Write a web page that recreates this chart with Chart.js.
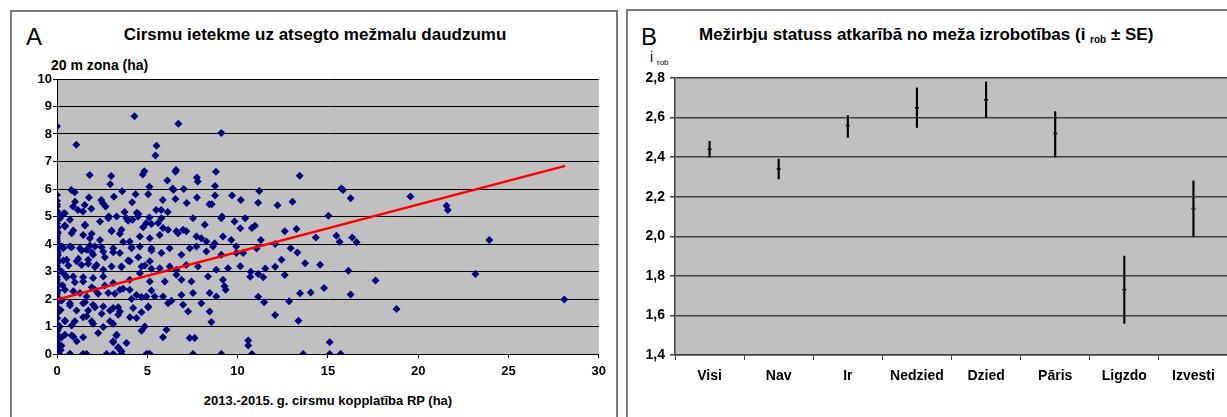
<!DOCTYPE html>
<html>
<head>
<meta charset="utf-8">
<script src="https://cdn.jsdelivr.net/npm/chart.js@4.4.1/dist/chart.umd.min.js"></script>
<style>
  body { margin: 0; background: #fff; overflow: hidden; width: 1227px; height: 417px; position: relative;
         font-family: "Liberation Sans", Arial, sans-serif; }
  .panel { position: absolute; border: 2px solid #7a7a7a; box-sizing: border-box; }
  .txt { position: absolute; line-height: 1; white-space: nowrap; color: #000; }
  .sub { font-size: 10px; position: relative; top: 3px; }
  canvas { position: absolute; }
</style>
</head>
<body>
<div class="panel" style="left:10px;top:10px;width:608px;height:410px"></div>
<div class="panel" style="left:626px;top:9px;width:640px;height:411px"></div>

<div class="txt" style="left:26px;top:25px;font-size:24px">A</div>
<div class="txt" style="left:641px;top:25px;font-size:24px">B</div>
<div class="txt" style="left:315px;top:26px;font-size:17px;font-weight:bold;transform:translateX(-50%)">Cirsmu ietekme uz atsegto mežmalu daudzumu</div>
<div class="txt" style="left:699px;top:26px;font-size:17px;font-weight:bold">Mežirbju statuss atkarībā no meža izrobotības (i <span class="sub">rob</span> ± SE)</div>
<div class="txt" style="left:51px;top:58px;font-size:14px;font-weight:bold">20 m zona (ha)</div>
<div class="txt" style="left:328px;top:394px;font-size:13px;font-weight:bold;transform:translateX(-50%)">2013.-2015. g. cirsmu kopplatība RP (ha)</div>
<div class="txt" style="left:650px;top:50px;font-size:14px">i <span class="sub" style="font-size:8px">rob</span></div>

<canvas id="chartA" width="600" height="400" style="left:12px;top:12px"></canvas>
<canvas id="chartB" width="620" height="400" style="left:628px;top:11px"></canvas>

<script>
// Panel A: scatter of clearcut area vs edge area
const scatterX = [
  0, 1.07, 4.29, 6.72, 9.1, 5.51, 5.45, 1.81, 3.0, 2.95, 4.75, 4.84, 6.56, 6.59, 7.75, 7.79, 8.8, 8.75, 6.11, 5.12,
  3.15, 3.61, 4.35, 5.05, 6.41, 6.45, 7.02, 6.56, 7.18, 7.75, 8.44, 8.57, 8.75, 9.69, 0.79, 0.98, 0, 0, 0, 1.77,
  1.0, 0.89, 1.53, 1.16, 1.44, 1.9, 2.45, 2.54, 2.69, 4.16, 5.86, 5.49, 5.77, 6.13, 2.87, 3.74, 4.42, 5.12, 9.14, 0.15, 0.43,
  0.17, 0.72, 1.55, 2.38, 2.84, 3.3, 3.85, 4.49, 4.95, 5.6, 5.78, 5.87, 6.61, 7.16, 7.53, 8.18, 9.1, 9.83, 4.18,
  0, 0.44, 0.81, 1.45, 1.82, 2.38, 3.02, 3.57, 4.03, 4.59, 5.14, 5.69, 6.15, 6.7, 6.98, 7.72, 7.99, 8.27, 8.73, 9.19, 9.65, 9.93,
  0, 0.35, 0.72, 1.27, 1.64, 2.1, 2.0, 2.56, 3.11, 3.48, 4.13, 4.59, 5.23, 5.78, 6.24, 6.89, 7.35, 7.72, 8.27, 8.64, 9.1, 9.93,
  0.07, 0.53, 1.09, 1.36, 1.73, 2.19, 2.56, 3.02, 3.57, 4.03, 4.68, 5.14, 5.69, 6.24, 6.61, 7.16, 7.81, 8.82, 9.47,
  0, 0.44, 0.9, 1.45, 2.0, 2.56, 3.11, 4.03, 4.59, 5.14, 5.97, 6.61, 6.89, 7.44, 8.36, 9.19, 9.28, 9.34,
  0, 0.44, 0.9, 1.27, 1.64, 2.1, 2.84, 3.48, 4.03, 4.4, 4.95, 5.41, 5.87, 6.89, 7.53, 8.45, 8.82,
  0.07, 0.72, 1.45, 2.0, 2.56, 3.11, 3.48, 4.22, 5.05, 6.15, 6.34, 6.98, 7.26, 7.99, 8.45,
  0, 0.44, 0.99, 1.64, 1.92, 2.93, 3.39, 4.4, 4.86, 6.06, 8.55,
  0, 0.07, 0.44, 0.9, 1.09, 2.28, 3.3, 3.11, 3.85, 3.39, 3.57, 5.87, 7.35, 7.62, 0, 0, 0.72, 1.45, 1.64, 2.74, 4.95, 5.14, 7.53, 9.1,
  13.44, 11.2, 10.18, 11.14, 12.21, 13.04, 15.74, 15.84, 16.26, 19.57, 10.42, 10.15, 10.79, 10.96, 15.03, 12.61, 13.26,
  11.29, 14.33, 15.47, 15.65, 16.35, 16.59, 10.31, 11.05, 12.08, 12.94, 13.31, 12.43, 10.15, 13.74, 14.57, 12.08, 11.53,
  10.73, 10.7, 11.14, 11.42, 12.61, 16.13, 17.64, 14.79, 13.46, 14.05, 16.26, 11.14, 11.47, 12.85, 18.8, 12.08, 13.37,
  10.59, 10.59, 10.79, 13.63, 15.1, 15.1, 15.71,
  21.57, 21.64, 23.94, 23.17, 28.09,
  0, 0, 0.05, 0, 0.05, 0, 0, 0.05, 0, 0, 0.05, 0, 0, 0.05, 0, 0, 0.05, 0, 0, 0, 0.1, 0.2, 0.25, 0.15, 0.2, 0.3, 0.25, 0.3,
  0.35, 0.44, 0.9, 1.55, 1.92, 2.84, 3.02, 3.48, 3.94, 3.66, 4.5, 4.77, 5.23,
  0.81, 1.36, 1.82, 1.92, 2.47, 2.65, 3.11, 4.13, 4.5, 5.23, 4.86,
  0.35, 0.63, 1.18, 1.73, 2.1, 3.57, 3.94, 5.23,
  0.53, 0.99, 1.45, 1.92, 2.28, 2.65, 3.2, 3.66, 4.13, 4.68, 5.23,
  0.26, 0.72, 1.08, 1.55, 1.73, 2.1, 2.47, 2.93, 3.39, 4.04, 4.68, 5.05,
  0.44, 0.81, 1.45, 2.0, 2.56, 3.11, 4.68,
  0.26, 0.81, 1.45, 3.29, 3.39, 3.11, 0.17, 0.72, 1.45, 3.11, 3.57, 5.05,
  0, 0.05, 0, 0.05, 0, 0.05, 0, 0.05, 0, 0.05, 0, 0.05, 0, 0.05, 0, 0.05, 0, 0.05
];
const scatterY = [
  8.28, 7.61, 8.65, 8.37, 8.04, 7.57, 7.22, 6.51, 6.47, 6.17, 6.53, 6.65, 6.63, 6.69, 6.42, 6.27, 6.63, 6.11, 6.31, 6.08,
  5.72, 5.92, 5.81, 5.81, 6.02, 5.96, 6.0, 5.64, 5.49, 5.69, 5.45, 5.45, 5.76, 5.76, 5.96, 5.88, 5.78, 5.57, 5.36, 5.69,
  5.54, 5.36, 5.42, 5.24, 5.18, 5.28, 5.6, 5.48, 5.36, 5.52, 5.6, 5.24, 5.24, 5.16, 5.0, 5.16, 5.14, 4.96, 5.0, 5.04, 5.12,
  4.94, 4.88, 4.7, 4.82, 4.94, 5.0, 4.94, 5.0, 4.76, 4.76, 4.94, 4.58, 4.46, 4.46, 4.94, 4.7, 4.94, 4.82, 4.88,
  4.46, 4.64, 4.39, 4.33, 4.21, 4.15, 4.46, 4.52, 4.09, 4.27, 4.21, 4.33, 4.52, 4.39, 4.52, 4.27, 4.21, 4.09, 4.03, 4.27, 4.15, 3.91,
  3.85, 3.85, 3.91, 3.85, 3.79, 3.91, 3.61, 3.73, 3.85, 3.67, 3.85, 3.91, 3.85, 3.67, 3.85, 3.61, 3.85, 3.91, 3.73, 3.91, 3.61, 3.67,
  3.37, 3.43, 3.37, 3.24, 3.43, 3.24, 3.06, 3.18, 3.18, 3.37, 3.18, 3.37, 3.12, 3.18, 3.06, 3.24, 3.18, 3.06, 3.12,
  2.94, 2.88, 2.82, 2.64, 2.76, 2.82, 2.58, 2.7, 2.94, 2.64, 2.64, 2.88, 2.7, 2.64, 2.82, 2.7, 2.46, 2.34,
  2.46, 2.34, 2.28, 2.22, 2.09, 2.34, 2.22, 2.34, 2.34, 2.15, 2.09, 2.09, 2.09, 2.15, 2.22, 2.22, 2.09,
  1.91, 1.85, 1.85, 1.79, 1.73, 1.67, 1.55, 1.67, 1.73, 1.85, 1.94, 1.79, 1.55, 1.85, 1.55,
  1.31, 1.19, 1.19, 1.37, 1.19, 1.19, 1.43, 1.31, 1.0, 0.88, 1.16,
  0.82, 0.58, 0.7, 0.64, 0.46, 0.76, 0.7, 0.46, 0.4, 0.22, 0.1, 0.61, 0.58, 0.58, 0.34, 0.1, 0, 0, 0, 0, 0, 0, 0, 0,
  6.48, 5.93, 5.6, 5.5, 5.41, 5.54, 6.02, 5.96, 5.66, 5.73, 4.94, 4.57, 4.58, 4.66, 5.03, 4.46, 4.55,
  4.15, 4.24, 4.3, 4.08, 4.24, 4.06, 3.67, 3.84, 4.0, 3.85, 3.69, 3.43, 3.19, 3.3, 3.25, 3.17, 3.11,
  2.99, 2.81, 2.91, 2.79, 2.87, 3.03, 2.67, 2.4, 2.21, 2.24, 2.16, 2.08, 1.88, 1.92, 1.64, 1.42, 1.21,
  0.49, 0.31, 0, 0, 0.43, 0, 0,
  5.39, 5.24, 4.15, 2.91, 1.98,
  0.2, 0.5, 0.9, 1.1, 1.5, 1.7, 2.1, 2.3, 2.6, 2.8, 3.1, 3.3, 3.5, 3.7, 4.1, 4.3, 4.6, 4.9, 5.2, 5.45, 0, 0.15, 0.3, 1.0, 1.6, 2.5, 3.0, 3.9,
  5.1, 4.67, 4.49, 4.67, 4.37, 4.98, 4.49, 4.37, 4.85, 4.07, 5.1, 4.61, 4.73,
  3.88, 3.76, 3.95, 3.7, 3.88, 3.52, 3.7, 3.88, 3.52, 3.76, 3.22,
  3.4, 3.22, 3.46, 3.28, 3.16, 3.16, 3.4, 3.1,
  2.79, 2.61, 2.79, 2.43, 2.19, 2.49, 2.19, 2.37, 2.0, 2.07, 2.31,
  1.95, 1.76, 1.58, 1.88, 1.58, 1.7, 1.46, 1.58, 1.7, 1.34, 1.52, 1.7,
  1.22, 1.04, 1.34, 1.1, 0.98, 1.1, 0.85,
  0.61, 0.67, 0.61, 0.67, 0.25, 0.43, 0.13, 0, 0, 0, 0, 0,
  0.0, 0.4, 0.7, 1.0, 1.3, 1.9, 2.2, 2.5, 2.7, 3.0, 3.2, 3.6, 3.8, 4.0, 4.2, 4.4, 4.75, 5.05
];
// Linear trend line, end points
const trendX = [0, 28.14];
const trendY = [1.98, 6.84];

// Panel B: mean index with SE range per category
const categoriesB = ['Visi', 'Nav', 'Ir', 'Nedzied', 'Dzied', 'Pāris', 'Ligzdo', 'Izvesti'];
const meanB = [2.44, 2.34, 2.56, 2.65, 2.69, 2.52, 1.73, 2.14];
const lowB = [2.40, 2.29, 2.50, 2.55, 2.60, 2.40, 1.56, 2.00];
const highB = [2.48, 2.39, 2.61, 2.75, 2.78, 2.63, 1.90, 2.28];

Chart.defaults.font.family = '"Liberation Sans", Arial, sans-serif';
Chart.defaults.color = '#000';

// Fill the plot area with the grey Excel background
const plotBackground = {
  id: 'plotBackground',
  beforeDraw(chart) {
    const { ctx, chartArea } = chart;
    ctx.save();
    ctx.fillStyle = '#c0c0c0';
    ctx.fillRect(chartArea.left, chartArea.top, chartArea.right - chartArea.left, chartArea.bottom - chartArea.top);
    ctx.restore();
  }
};

const scatterPoints = scatterX.map((x, i) => ({ x: x, y: scatterY[i] }));
const trendPoints = trendX.map((x, i) => ({ x: x, y: trendY[i] }));

new Chart(document.getElementById('chartA'), {
  type: 'scatter',
  data: {
    datasets: [
      {
        type: 'line',
        data: trendPoints,
        borderColor: '#ff0000',
        borderWidth: 2.5,
        pointRadius: 0,
        order: 0
      },
      {
        data: scatterPoints,
        pointStyle: 'rectRot',
        pointRadius: 4,
        backgroundColor: '#000080',
        borderColor: '#000080',
        borderWidth: 0,
        order: 1
      }
    ]
  },
  options: {
    responsive: false,
    animation: false,
    devicePixelRatio: 1,
    layout: { padding: { left: 0, right: 12, top: 67, bottom: 0 } },
    plugins: { legend: { display: false }, tooltip: { enabled: false } },
    scales: {
      x: {
        type: 'linear',
        min: 0,
        max: 30,
        afterFit: (scale) => { scale.height = 58; },
        ticks: { stepSize: 5, padding: 6, font: { size: 13, weight: 'bold' } },
        grid: { drawOnChartArea: false, tickLength: 4, color: '#000' },
        border: { color: '#000' }
      },
      y: {
        min: 0,
        max: 10,
        afterFit: (scale) => { scale.width = 45; },
        ticks: { stepSize: 1, padding: 1, font: { size: 13, weight: 'bold' } },
        grid: { color: '#000', tickLength: 4 },
        border: { color: '#000' }
      }
    }
  },
  plugins: [plotBackground]
});

new Chart(document.getElementById('chartB'), {
  type: 'bar',
  data: {
    labels: categoriesB,
    datasets: [
      {
        type: 'line',
        data: meanB,
        showLine: false,
        pointStyle: 'line',
        pointRadius: 2,
        borderColor: '#000',
        borderWidth: 1.5,
        order: 0
      },
      {
        data: lowB.map((lo, i) => [lo, highB[i]]),
        backgroundColor: '#000',
        barThickness: 1.5,
        order: 1
      }
    ]
  },
  options: {
    responsive: false,
    animation: false,
    devicePixelRatio: 1,
    layout: { padding: { left: 0, right: 20, top: 67, bottom: 0 } },
    plugins: { legend: { display: false }, tooltip: { enabled: false } },
    scales: {
      x: {
        afterFit: (scale) => { scale.height = 56; },
        ticks: { padding: 8, font: { size: 14, weight: 'bold' } },
        grid: { offset: true, drawOnChartArea: false, tickLength: 5, color: '#404040' },
        border: { color: '#404040', width: 1.5 }
      },
      y: {
        min: 1.4,
        max: 2.8,
        afterFit: (scale) => { scale.width = 47; },
        ticks: {
          stepSize: 0.2,
          padding: 5,
          font: { size: 14, weight: 'bold' },
          callback: (v) => v.toFixed(1).replace('.', ',')
        },
        grid: { color: '#404040', lineWidth: 1.5, tickLength: 5 },
        border: { color: '#404040', width: 1.5 }
      }
    }
  },
  plugins: [plotBackground]
});
</script>
</body>
</html>
